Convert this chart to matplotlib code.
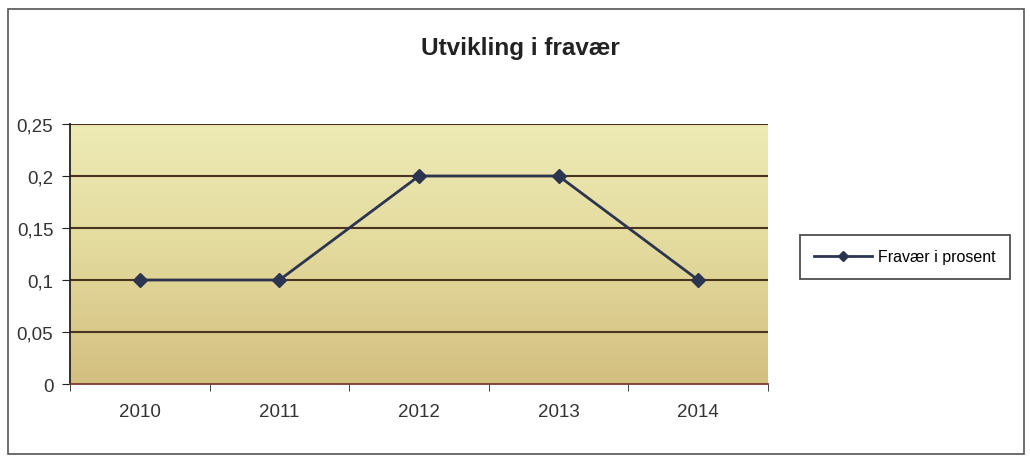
import numpy as np
import matplotlib.pyplot as plt
from matplotlib.patches import Rectangle
from matplotlib.colors import LinearSegmentedColormap

# data
years = ['2010', '2011', '2012', '2013', '2014']
fravaer = [0.1, 0.1, 0.2, 0.2, 0.1]
yticks = [0, 0.05, 0.1, 0.15, 0.2, 0.25]
ytick_labels = ['0', '0,05', '0,1', '0,15', '0,2', '0,25']

plt.rcParams['font.family'] = ['Liberation Sans', 'DejaVu Sans']

fig = plt.figure(figsize=(10.3, 4.64), dpi=100)
fig.patch.set_facecolor('white')

# outer chart frame
fig.add_artist(Rectangle((8 / 1030, 1 - 455 / 464), 1016 / 1030, 445 / 464,
                         transform=fig.transFigure, fill=False,
                         edgecolor='#555555', linewidth=1.2))

ax = fig.add_axes([70 / 1030, 1 - 385 / 464, 698 / 1030, 260 / 464])

# gradient background for the plot area
cmap = LinearSegmentedColormap.from_list('bg', ['#d3bf80', '#e3d99c', '#eeebb6'])
grad = np.linspace(0, 1, 256).reshape(-1, 1)
ax.imshow(grad, aspect='auto', cmap=cmap, origin='lower',
          extent=[0, 1, 0, 1], transform=ax.transAxes, zorder=0)

x = np.arange(len(years))
ax.set_xlim(-0.5, len(years) - 0.5)
ax.set_ylim(0, 0.25)

for yv in yticks[1:]:
    ax.axhline(yv, color='#4a3420', linewidth=1.5, zorder=1)

ax.plot(x, fravaer, color='#2b3550', linewidth=2, marker='D', markersize=7,
        markerfacecolor='#2b3550', markeredgecolor='#2b3550', zorder=3,
        label='Fravær i prosent')

ax.set_yticks(yticks)
ax.set_yticklabels(ytick_labels, fontsize=13.5, color='#333333')
ax.set_xticks(x)
ax.set_xticklabels(years, fontsize=13.5, color='#333333')
ax.set_xticks(np.arange(-0.5, len(years)), minor=True)
ax.tick_params(axis='x', which='major', length=0, pad=14)
ax.tick_params(axis='x', which='minor', length=5, direction='out', color='#222222')
ax.tick_params(axis='y', length=6, direction='out', color='#222222', pad=6)

for side in ['top', 'right']:
    ax.spines[side].set_visible(False)
ax.spines['left'].set_color('#222222')
ax.spines['bottom'].set_color('#7a3a30')
ax.spines['left'].set_linewidth(1.3)
ax.spines['bottom'].set_linewidth(1.3)

fig.text(0.505, 1 - 48 / 464, 'Utvikling i fravær', ha='center', va='center',
         fontsize=17.5, fontweight='bold', color='#222222')

leg = fig.legend(loc='center',
                 bbox_to_anchor=(905 / 1030, 1 - 258 / 464),
                 frameon=True, fancybox=False, edgecolor='#222222',
                 fontsize=11.5, handlelength=3.6, handletextpad=0.4,
                 borderpad=0.9, borderaxespad=0, markerscale=0.7)
leg.get_frame().set_linewidth(1.3)
leg.get_frame().set_width(234)

fig.savefig('out.png', dpi=100)
